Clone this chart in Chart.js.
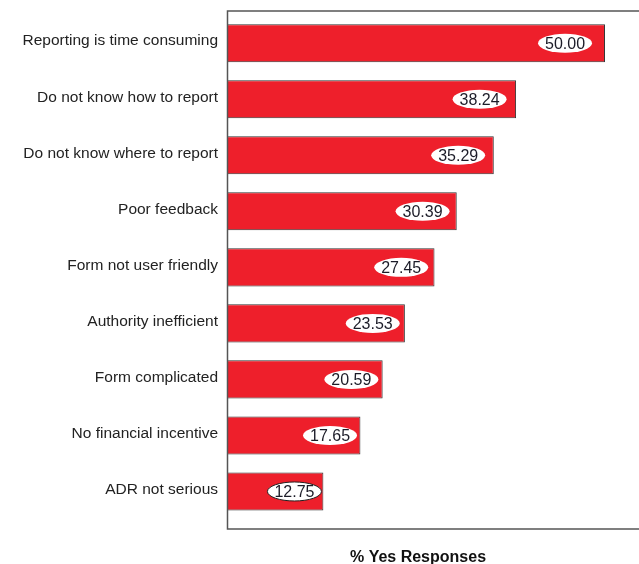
<!DOCTYPE html>
<html><head><meta charset="utf-8">
<script src="https://cdn.jsdelivr.net/npm/chart.js@4"></script>
<style>html,body{margin:0;padding:0;background:#fff}#wrap{width:639px;height:564px}</style>
</head><body><div id="wrap"><canvas id="c"></canvas></div>
<script>
const categories = ["Reporting is time consuming","Do not know how to report","Do not know where to report","Poor feedback","Form not user friendly","Authority inefficient","Form complicated","No financial incentive","ADR not serious"];
const values = [50.00,38.24,35.29,30.39,27.45,23.53,20.59,17.65,12.75];
const axisTitle = "% Yes Responses";

const deco = {
  id:'deco',
  afterDatasetsDraw(chart){
    const ctx = chart.ctx;
    const meta = chart.getDatasetMeta(0);
    ctx.save();
    meta.data.forEach((bar,i)=>{
      const len = bar.x - bar.base;
      const cx = bar.x - (25.2 + 0.039*len), cy = bar.y;
      ctx.beginPath();
      ctx.ellipse(cx, cy, 27, 9.5, 0, 0, Math.PI*2);
      ctx.fillStyle = '#fff'; ctx.fill();
      if (i === values.length-1){ ctx.strokeStyle='#222'; ctx.lineWidth=1; ctx.stroke(); }
      ctx.fillStyle = '#1c1c28';
      ctx.font = '16px "Liberation Sans", Arial, sans-serif';
      ctx.textAlign='center'; ctx.textBaseline='middle';
      ctx.fillText(values[i].toFixed(2), cx, cy+1);
    });
    ctx.strokeStyle = '#555'; ctx.lineWidth = 1.5;
    ctx.beginPath();
    ctx.moveTo(639, 11); ctx.lineTo(227.5, 11); ctx.lineTo(227.5, 529); ctx.lineTo(639, 529);
    ctx.stroke();
    ctx.fillStyle = '#111';
    ctx.font = 'bold 16px "Liberation Sans", Arial, sans-serif';
    ctx.textAlign='center'; ctx.textBaseline='middle';
    ctx.fillText(axisTitle, 418, 558);
    ctx.restore();
  }
};

new Chart(document.getElementById('c'), {
  type:'bar',
  data:{labels:categories, datasets:[{data:values, backgroundColor:'#EE1F2B', borderColor:'#333', borderWidth:1, borderSkipped:false, barPercentage:0.68, categoryPercentage:1}]},
  options:{
    indexAxis:'y', responsive:true, maintainAspectRatio:false, animation:false,
    layout:{padding:{top:15.2, bottom:44.5, left:0, right:0}},
    plugins:{legend:{display:false}, tooltip:{enabled:false}},
    scales:{
      x:{display:false, min:0, max:54.5},
      y:{
        afterFit(s){ s.width = 227; },
        grid:{display:false}, border:{display:false},
        ticks:{color:'#222', font:{family:'"Liberation Sans", Arial, sans-serif', size:15.5}, padding:1, labelOffset:-2}
      }
    }
  },
  plugins:[deco]
});
</script></body></html>
